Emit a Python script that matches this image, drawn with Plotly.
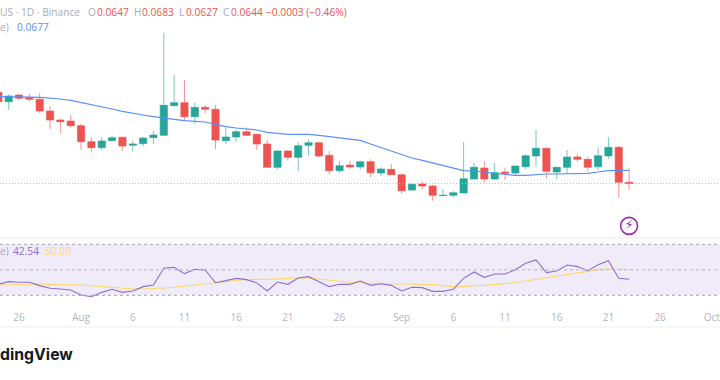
import pandas as pd
import plotly.graph_objects as go

dates = pd.date_range("2023-07-24", "2023-09-23", freq="D")

opens = [0.08734,0.08499,0.08667,0.08600,0.08558,0.08264,0.08038,0.08013,
 0.07895,0.07492,0.07342,0.07518,0.07602,0.07400,0.07442,0.07593,0.07652,0.08398,0.08474,0.08122,0.08356,0.08306,0.07518,0.07610,
 0.07744,0.07677,0.07434,0.06847,0.07258,0.07098,0.07400,0.07467,0.07149,0.06763,0.06905,0.06855,0.06989,0.06704,0.06796,
 0.06662,0.06276,0.06427,0.06377,0.06134,0.06142,0.06201,0.06553,0.06830,0.06553,0.06729,0.06704,0.06864,0.07132,0.07325,0.06729,0.06847,0.07107,0.07048,0.06864,0.07132,0.07350,0.0647]
highs = [0.08750,0.08684,0.08692,0.08692,0.08709,0.08389,0.08080,0.08163,
 0.07954,0.07602,0.07602,0.07643,0.07602,0.07509,0.07602,0.07761,0.10218,0.09170,0.09044,0.08474,0.08415,0.08415,0.07845,0.07786,
 0.07853,0.07685,0.07534,0.07283,0.07283,0.07476,0.07551,0.07492,0.07258,0.07006,0.07006,0.07014,0.07048,0.06847,0.06931,
 0.06679,0.06444,0.06494,0.06402,0.06302,0.06251,0.07484,0.06964,0.06998,0.06964,0.06838,0.06889,0.07174,0.07786,0.07342,0.06864,0.07283,0.07182,0.07115,0.07350,0.07602,0.07384,0.0683]
lows = [0.08490,0.08289,0.08541,0.08499,0.08205,0.07811,0.07702,0.07845,
 0.07283,0.07216,0.07283,0.07509,0.07266,0.07241,0.07367,0.07434,0.07635,0.08373,0.08021,0.07937,0.08205,0.07308,0.07434,0.07492,
 0.07635,0.07283,0.06838,0.06805,0.07014,0.06755,0.07140,0.07098,0.06670,0.06713,0.06813,0.06796,0.06595,0.06629,0.06654,
 0.06184,0.06251,0.06302,0.06008,0.06125,0.06092,0.06192,0.06545,0.06461,0.06528,0.06528,0.06654,0.06805,0.06864,0.06570,0.06545,0.06679,0.06989,0.06746,0.06779,0.07065,0.06075,0.0627]
closes = [0.08499,0.08642,0.08583,0.08558,0.08264,0.08038,0.07996,0.07895,
 0.07492,0.07342,0.07509,0.07593,0.07384,0.07434,0.07585,0.07660,0.08407,0.08474,0.08122,0.08356,0.08306,0.07534,0.07610,0.07744,
 0.07652,0.07434,0.06847,0.07258,0.07098,0.07392,0.07467,0.07132,0.06763,0.06889,0.06855,0.06989,0.06713,0.06805,0.06662,
 0.06259,0.06419,0.06377,0.06142,0.06142,0.06209,0.06562,0.06847,0.06553,0.06713,0.06696,0.06880,0.07140,0.07325,0.06746,0.06847,0.07107,0.07048,0.06847,0.07140,0.07350,0.06470,0.0644]
ma_values = [0.08625,0.08616,0.08616,0.08612,0.08608,0.08591,0.08566,0.08532,
 0.08482,0.08432,0.08373,0.08314,0.08256,0.08205,0.08163,0.08122,0.08096,0.08054,0.08021,0.08004,0.07987,0.07929,0.07870,0.07836,
 0.07811,0.07786,0.07727,0.07694,0.07677,0.07677,0.07677,0.07652,0.07618,0.07593,0.07559,0.07526,0.07434,0.07350,0.07258,
 0.07165,0.07082,0.07023,0.06956,0.06880,0.06813,0.06763,0.06755,0.06729,0.06696,0.06671,0.06645,0.06645,0.06671,0.06679,0.06679,0.06687,0.06687,0.06696,0.06729,0.06763,0.06771,0.0677]
rsi_values = [38.6,40.7,40.2,40.2,37.6,35.5,34.95,34.2,
 30.2,28.9,32.3,34.7,32.3,33.4,36.8,38.1,51.2,51.9,47.0,50.4,49.9,39.9,41.5,43.3,
 42.3,39.7,33.4,40.4,38.6,43.6,44.6,40.7,36.8,38.6,38.6,41.2,37.8,39.1,37.8,
 33.4,36.3,36.0,33.1,33.1,34.7,43.3,48.3,44.1,46.7,46.7,50.1,55.1,57.7,47.8,49.1,53.8,52.5,49.3,54.0,57.2,43.3,42.54]
rsi_ma_values = [38.1,38.35,38.7,39.1,38.9,38.6,38.6,38.35,
 38.1,37.6,36.8,36.0,35.5,34.95,34.95,35.2,35.7,36.3,37.0,38.1,39.1,39.7,40.7,41.75,
 42.3,42.5,42.5,43.0,43.3,43.6,43.6,42.8,41.75,40.7,40.2,39.9,39.4,39.1,38.9,
 38.9,38.9,38.6,38.35,37.6,36.8,36.8,37.6,37.8,38.35,38.9,39.9,41.2,42.5,43.8,44.9,46.2,47.5,48.5,50.1,50.6,50.4,50.0]

tick_dates = ["2023-07-26","2023-08-01","2023-08-06","2023-08-11","2023-08-16","2023-08-21","2023-08-26",
              "2023-09-01","2023-09-06","2023-09-11","2023-09-16","2023-09-21","2023-09-26","2023-10-01"]
tick_labels = ["26","Aug","6","11","16","21","26","Sep","6","11","16","21","26","Oct"]
x_range = ["2023-07-24 03:50", "2023-10-01 19:00"]
price_range = [0.05069, 0.11057]
rsi_range = [22.39, 74.94]

GREEN, RED, BLUE, PURPLE, YELLOW = "#26a69a", "#ef5350", "#5b8ff9", "#8e6fd0", "#fdd969"
GRAY = "#a9acb6"
FONT = "Open Sans"

fig = go.Figure()
fig.add_trace(go.Candlestick(x=dates, open=opens, high=highs, low=lows, close=closes,
    increasing=dict(fillcolor=GREEN, line=dict(color="rgba(38,166,154,0.62)", width=1)),
    decreasing=dict(fillcolor=RED, line=dict(color="rgba(239,83,80,0.62)", width=1)),
    whiskerwidth=0, showlegend=False, xaxis="x", yaxis="y"))
fig.add_trace(go.Scatter(x=dates, y=ma_values, mode="lines", line=dict(color=BLUE, width=1.2),
    showlegend=False, xaxis="x", yaxis="y"))
fig.add_trace(go.Scatter(x=dates, y=rsi_ma_values, mode="lines", line=dict(color=YELLOW, width=1.1),
    showlegend=False, xaxis="x2", yaxis="y2"))
fig.add_trace(go.Scatter(x=dates, y=rsi_values, mode="lines", line=dict(color=PURPLE, width=1.1),
    showlegend=False, xaxis="x2", yaxis="y2"))
# event marker
fig.add_trace(go.Scatter(x=[dates[-1]], y=[0.05375], mode="markers+text", text=["⚡"], textposition="middle center",
    textfont=dict(size=13, color="#9c27b0", family="DejaVu Sans"),
    marker=dict(symbol="circle-open", size=17, color="#9c27b0", line=dict(width=1.6, color="#9c27b0")),
    showlegend=False, xaxis="x", yaxis="y"))

shapes = [
    dict(type="rect", xref="paper", x0=0, x1=1, yref="y2", y0=30, y1=70, fillcolor="rgba(126,87,194,0.12)", line_width=0, layer="below"),
    dict(type="line", xref="paper", x0=0, x1=1, yref="y2", y0=70, y1=70, line=dict(color="#a3a5ad", width=1, dash="3px,3px")),
    dict(type="line", xref="paper", x0=0, x1=1, yref="y2", y0=50, y1=50, line=dict(color="#b6b6bf", width=1, dash="3px,3px")),
    dict(type="line", xref="paper", x0=0, x1=1, yref="y2", y0=30, y1=30, line=dict(color="#a3a5ad", width=1, dash="3px,3px")),
    dict(type="line", xref="paper", x0=0, x1=1, yref="y", y0=closes[-1], y1=closes[-1], line=dict(color="#f0a8a6", width=1, dash="1px,2px")),
    dict(type="line", xref="paper", x0=0, x1=1, yref="paper", y0=1-238/380, y1=1-238/380, line=dict(color="#e9eaec", width=1)),
    dict(type="line", xref="paper", x0=0, x1=1, yref="paper", y0=1-327/380, y1=1-327/380, line=dict(color="#eeeff1", width=1)),
]

def label(text, x, y, color=GRAY, size=10.2, weight=None, family=FONT):
    return dict(text=text, x=x/720, y=1-y/380, xref="paper", yref="paper", xanchor="left", yanchor="middle",
                showarrow=False, align="left", font=dict(size=size, color=color, family=family, weight=weight),
                borderpad=0, xshift=0, yshift=0)

annotations = [
    label("US · 1D · Binance", -1, 12),
    label("O", 87, 12), label("0.0647", 96, 12, RED),
    label("H", 133, 12), label("0.0683", 141, 12, RED),
    label("L", 178, 12), label("0.0627", 185, 12, RED),
    label("C", 222, 12), label("0.0644", 230, 12, RED),
    label("−0.0003 (−0.46%)", 265, 12, RED),
    label("e)", -1, 27), label("0.0677", 16, 27, BLUE),
    label("e)", -1, 251), label("42.54", 12, 251, PURPLE), label("50.00", 44, 251, YELLOW),
    label("dingView", -1, 354, "#131722", 15.8, 700, "Inter"),
]

fig.update_layout(
    width=720, height=380, margin=dict(l=0, r=0, t=0, b=0), autosize=False,
    paper_bgcolor="white", plot_bgcolor="white", showlegend=False, boxgap=0.3, boxgroupgap=0,
    xaxis=dict(domain=[0, 1], range=x_range, type="date", anchor="y", showgrid=False, zeroline=False,
               showticklabels=False, ticks="", rangeslider=dict(visible=False), matches="x2"),
    xaxis2=dict(domain=[0, 1], range=x_range, type="date", anchor="y2", showgrid=False, zeroline=False,
                tickmode="array", tickvals=tick_dates, ticktext=tick_labels, ticks="outside", ticklen=3,
                ticklabeloverflow="allow",
                tickcolor="rgba(0,0,0,0)", tickfont=dict(size=10, color="#b2b5be", family=FONT), showline=False),
    yaxis=dict(domain=[1-238/380, 1], range=price_range, visible=False, fixedrange=True),
    yaxis2=dict(domain=[1-305/380, 1-238/380], range=rsi_range, visible=False, fixedrange=True),
    shapes=shapes, annotations=annotations,
)
fig.write_html("out.html", config=dict(displayModeBar=False),
               post_script="document.body.style.margin='0';document.documentElement.style.overflow='hidden';")
